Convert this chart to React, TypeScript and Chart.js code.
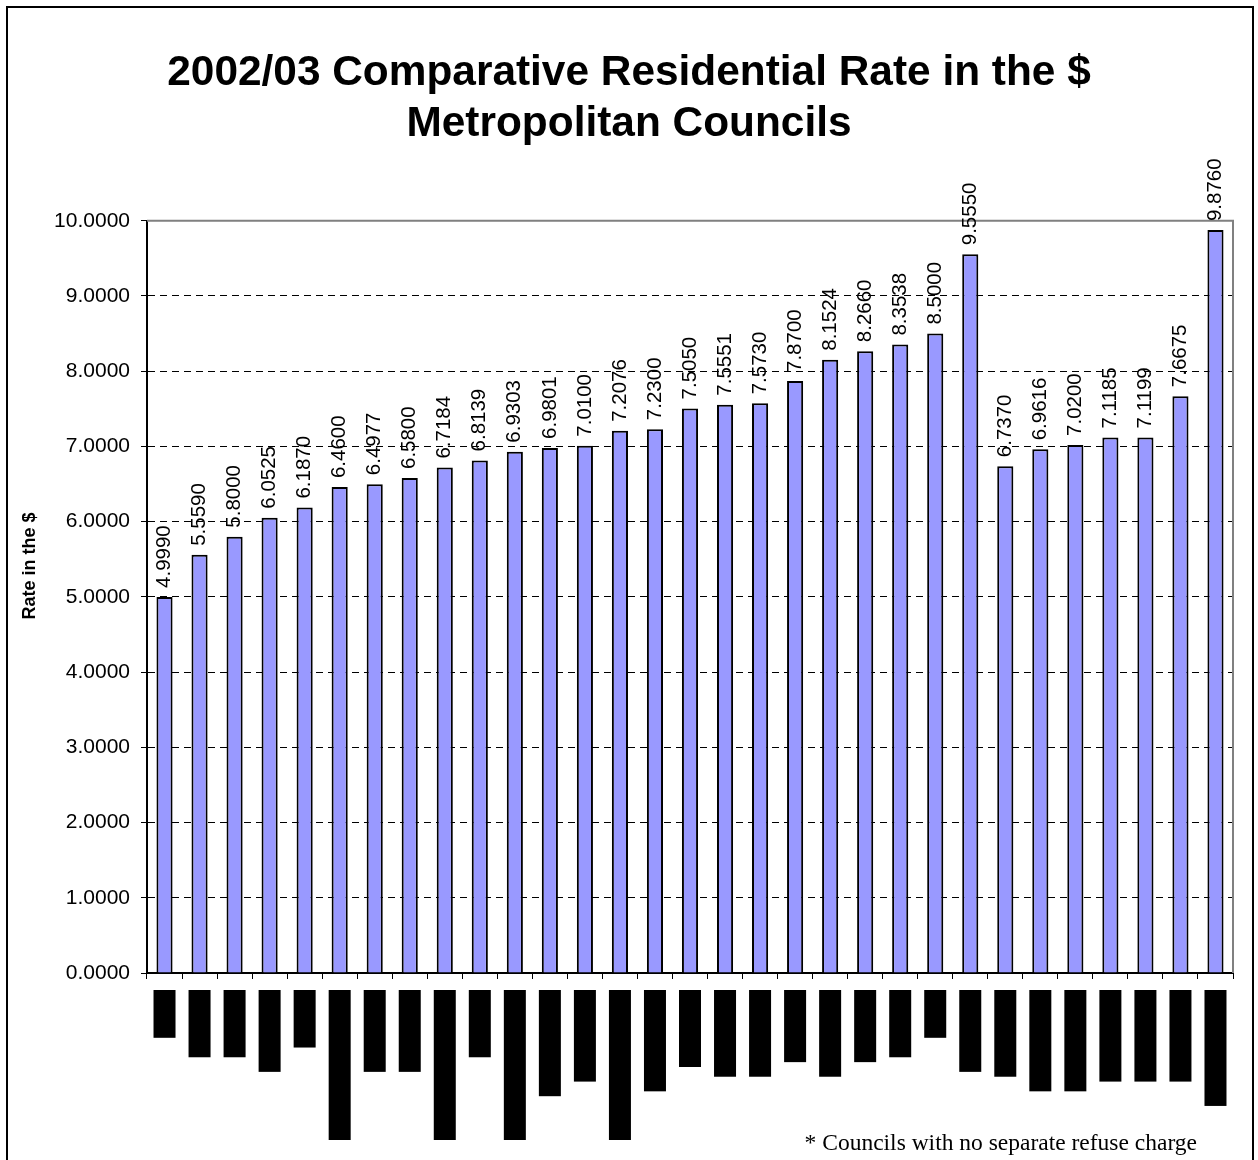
import React, { useEffect, useRef } from 'react';
import { Chart, registerables } from 'chart.js';

Chart.register(...registerables);

// Council names are redacted in the source (rendered as solid black blocks)
const councils: string[] = [
  '█████████',
  '█████████████',
  '█████████████',
  '████████████████',
  '███████████',
  '██████████████████████████████',
  '████████████████',
  '████████████████',
  '██████████████████████████████',
  '█████████████',
  '██████████████████████████████',
  '█████████████████████',
  '██████████████████',
  '██████████████████████████████',
  '████████████████████',
  '███████████████',
  '█████████████████',
  '█████████████████',
  '██████████████',
  '█████████████████',
  '██████████████',
  '█████████████',
  '█████████',
  '████████████████',
  '█████████████████',
  '████████████████████',
  '████████████████████',
  '██████████████████',
  '██████████████████',
  '██████████████████',
  '███████████████████████',
];

const rates: number[] = [
  4.999, 5.559, 5.8, 6.0525, 6.187, 6.46, 6.4977, 6.58, 6.7184, 6.8139, 6.9303,
  6.9801, 7.01, 7.2076, 7.23, 7.505, 7.5551, 7.573, 7.87, 8.1524, 8.266, 8.3538,
  8.5, 9.555, 6.737, 6.9616, 7.02, 7.1185, 7.1199, 7.6675, 9.876,
];

const titleLines: string[] = ['2002/03 Comparative Residential Rate in the $', 'Metropolitan Councils'];
const yAxisTitle = 'Rate in the $';
const footnote = '* Councils with no separate refuse charge';
const yMin = 0;
const yMax = 10;
const yStep = 1;

const SANS = '"Liberation Sans", Arial, sans-serif';
const SERIF = '"Liberation Serif", "Times New Roman", serif';

const decorPlugin = {
  id: 'decor',
  beforeDraw(chart: any) {
    const { ctx } = chart;
    ctx.save();
    ctx.fillStyle = '#ffffff';
    ctx.fillRect(0, 0, chart.width, chart.height);
    ctx.strokeStyle = '#000000';
    ctx.lineWidth = 2;
    ctx.strokeRect(7, 7, 1246, 1300);
    ctx.restore();
  },
  beforeDatasetsDraw(chart: any) {
    const { ctx, chartArea: a } = chart;
    ctx.save();
    ctx.strokeStyle = '#808080';
    ctx.lineWidth = 2;
    ctx.beginPath();
    ctx.moveTo(a.left, a.top);
    ctx.lineTo(a.right, a.top);
    ctx.lineTo(a.right, a.bottom);
    ctx.stroke();
    ctx.restore();
  },
  afterDatasetsDraw(chart: any) {
    const { ctx } = chart;
    const meta = chart.getDatasetMeta(0);
    ctx.save();
    ctx.fillStyle = '#000000';
    ctx.font = `20.5px ${SANS}`;
    ctx.textAlign = 'left';
    ctx.textBaseline = 'middle';
    meta.data.forEach((bar: any, i: number) => {
      ctx.save();
      ctx.translate(bar.x, bar.y - 9);
      ctx.rotate(-Math.PI / 2);
      ctx.fillText(rates[i].toFixed(4), 0, 0);
      ctx.restore();
    });
    ctx.restore();
  },
  afterDraw(chart: any) {
    const { ctx } = chart;
    ctx.save();
    ctx.fillStyle = '#000000';
    ctx.font = `bold 18px ${SANS}`;
    ctx.textAlign = 'center';
    ctx.textBaseline = 'middle';
    ctx.translate(30, 566);
    ctx.rotate(-Math.PI / 2);
    ctx.fillText(yAxisTitle, 0, 0);
    ctx.restore();

    ctx.save();
    ctx.fillStyle = '#000000';
    ctx.font = `23.5px ${SERIF}`;
    ctx.textAlign = 'right';
    ctx.textBaseline = 'alphabetic';
    ctx.fillText(footnote, 1197, 1150);
    ctx.restore();
  },
};

export default function App() {
  const ref = useRef<HTMLCanvasElement | null>(null);

  useEffect(() => {
    if (!ref.current) return;
    const chart = new Chart(ref.current, {
      type: 'bar',
      data: {
        labels: councils,
        datasets: [
          {
            data: rates,
            backgroundColor: '#9999FF',
            borderColor: '#000000',
            borderWidth: 2,
            categoryPercentage: 1,
            barPercentage: 0.46,
          },
        ],
      },
      options: {
        animation: false,
        responsive: false,
        maintainAspectRatio: false,
        layout: { padding: { left: 25, right: 25, top: 0, bottom: 0 } },
        plugins: {
          legend: { display: false },
          tooltip: { enabled: false },
          title: {
            display: true,
            text: titleLines,
            color: '#000000',
            font: { family: SANS, size: 42.4, weight: 'bold', lineHeight: 1.2 },
            padding: { top: 48, bottom: 71 },
          },
        },
        scales: {
          x: {
            type: 'category',
            grid: {
              display: true,
              drawOnChartArea: false,
              drawTicks: true,
              tickLength: 6,
              tickColor: '#000000',
              tickWidth: 1,
              offset: true,
            },
            border: { display: true, color: '#000000', width: 2 },
            ticks: {
              autoSkip: false,
              minRotation: 90,
              maxRotation: 90,
              color: '#000000',
              padding: 13,
              labelOffset: -8,
              font: { family: 'DejaVu Sans', size: 6.34, lineHeight: '16px' },
              showLabelBackdrop: true,
              backdropColor: '#000000',
              backdropPadding: { left: 2, right: 2, top: 3, bottom: 3 },
            },
            afterFit(scale: any) {
              scale.height = 187;
            },
          },
          y: {
            min: yMin,
            max: yMax,
            ticks: {
              stepSize: yStep,
              color: '#000000',
              padding: 11,
              font: { family: SANS, size: 21 },
              callback: (v: any) => Number(v).toFixed(4),
            },
            grid: {
              color: (c: any) => (c.tick && (c.tick.value === yMax || c.tick.value === yMin) ? 'rgba(0,0,0,0)' : '#000000'),
              lineWidth: 1,
              drawTicks: true,
              tickLength: 6,
              tickColor: '#000000',
              tickWidth: 1,
            },
            border: { display: true, color: '#000000', width: 2, dash: [7, 5] },
            afterFit(scale: any) {
              scale.width = 122;
            },
          },
        },
      },
      plugins: [decorPlugin],
    } as any);
    return () => chart.destroy();
  }, []);

  return (
    <div style={{ position: 'absolute', left: 0, top: 0, width: 1258, height: 1160 }}>
      <canvas ref={ref} width={1258} height={1160} style={{ width: 1258, height: 1160, display: 'block' }} />
    </div>
  );
}
